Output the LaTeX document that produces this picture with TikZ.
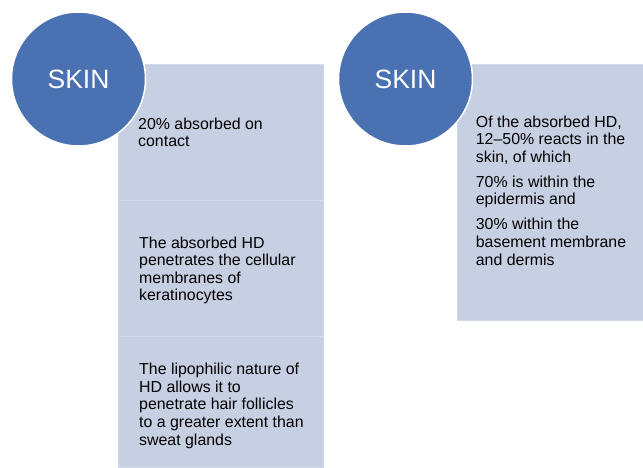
\documentclass[tikz,border=0pt]{standalone}
\usepackage{fontspec}
\setmainfont{Liberation Sans}
\definecolor{circblue}{HTML}{4A72B3}
\definecolor{boxfill}{HTML}{C7D0E3}
\definecolor{boxline}{HTML}{D2D9EA}
\begin{document}
\begin{tikzpicture}[x=1pt,y=-1pt,
  panel/.style={fill=boxfill,draw=boxline,line width=0.8pt},
  skin/.style={circle,fill=circblue,draw=white,line width=1.5pt,minimum size=134pt,inner sep=0pt,text=white,font=\fontsize{26.5}{30}\selectfont},
  txt/.style={anchor=base west,inner sep=0pt,align=left,text=black,font=\fontsize{15.9}{17.6}\selectfont}]
\useasboundingbox (0,0) rectangle (643,467);
% left column
\path[panel] (118,64) rectangle (323,200) coordinate (b1);
\path[panel] (118,200) rectangle (323,336) coordinate (b2);
\path[panel] (118,336) rectangle (323,467.5) coordinate (b3);
\node[skin] (c1) at (78.5,79) {SKIN};
\node[txt] (t1) at (138,146.7) {20\% absorbed on\\contact};
\node[txt] (t2) at (139,300.8) {The absorbed HD\\penetrates the cellular\\membranes of\\keratinocytes};
\node[txt] (t3) at (139,445) {The lipophilic nature of\\HD allows it to\\penetrate hair follicles\\to a greater extent than\\sweat glands};
% right column
\path[panel] (457,64) rectangle (643.5,320) coordinate (b4);
\node[skin] (c2) at (405.5,79) {SKIN};
\node[txt] (t4) at (475.7,265) {Of the absorbed HD,\\12–50\% reacts in the\\skin, of which\\[7.4pt]70\% is within the\\epidermis and\\[7.4pt]30\% within the\\basement membrane\\and dermis};
\end{tikzpicture}
\end{document}
